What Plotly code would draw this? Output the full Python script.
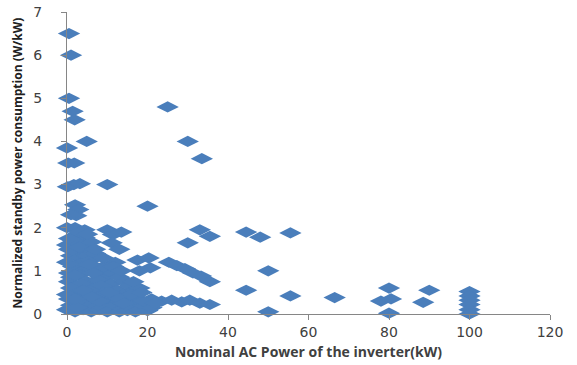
import plotly.graph_objects as go

# Nominal AC power (kW) and normalized standby consumption (W/kW)
power_kw = [
    0.5, 1, 0.5, 1.4, 1.9, 4.9, 0, 0.3, 1.8, 25, 30, 33.5,
    0.2, 1.7, 3.2, 10,
    2, 2.8, 2.3, 20,
    0, 2, 4.4, 2.4, 4.4, 10, 11.4, 11.1, 4.5, 6, 5.1, 13.5, 13,
    33, 35.5, 30, 44.5, 48, 55.5,
    50, 44.5, 55.5, 50, 66.5, 80, 78, 80.5, 80, 90, 88.5,
    100, 100, 100, 100, 100, 100,
    17.5, 20.3, 18, 20.7,
    25.3, 27.3, 29.3, 31.3, 33.3, 35.5,
    23.5, 26, 28.5, 30.5, 33, 35.5, 21, 20,
    0.5, 1, 2, 3, 4, 5, 6, 7, 0, 1.5, 2.5, 0.5, 4,
    6, 8, 9.5, 11, 12.5, 14, 15.5, 17,
    3, 5, 6.5, 8, 9.5, 11,
    10, 11.5, 13, 14.5, 15.5, 17, 12, 9,
    0, 1, 2, 3, 4, 5, 6, 7, 8, 9, 10, 11, 12, 13, 14, 15, 16, 17, 18, 19, 20, 21,
    0.5, 1.5, 2, 0.5, 3.5, 4.5, 1, 2.5,
    15, 17, 19, 18,
    7.5, 8.5, 9, 6.5, 5.5, 3.5, 2, 1, 0, 13, 14, 16, 12, 10.5, 8, 6, 4, 2.5,
    0, 1.5, 3, 5.5, 7, 9, 11.5, 13.5, 16.5, 18.5, 22, 1, 3, 0.5, 5, 7, 2,
]
standby_w_per_kw = [
    6.5, 6.0, 5.0, 4.7, 4.5, 4.0, 3.85, 3.5, 3.5, 4.8, 4.0, 3.6,
    2.95, 3.0, 3.02, 3.0,
    2.53, 2.42, 2.28, 2.5,
    2.0, 2.0, 1.95, 1.84, 1.77, 1.95, 1.84, 1.65, 1.6, 1.67, 1.48, 1.9, 1.5,
    1.95, 1.8, 1.65, 1.9, 1.78, 1.88,
    1.0, 0.55, 0.42, 0.05, 0.38, 0.6, 0.3, 0.35, 0.02, 0.55, 0.27,
    0.52, 0.42, 0.32, 0.22, 0.1, 0.0,
    1.25, 1.3, 1.0, 1.07,
    1.2, 1.12, 1.05, 0.95, 0.88, 0.75,
    0.3, 0.32, 0.28, 0.32, 0.25, 0.22, 0.35, 0.2,
    1.5, 1.35, 1.45, 1.3, 1.2, 1.35, 1.25, 1.1, 1.2, 1.1, 1.0, 0.95, 1.0,
    1.05, 0.95, 0.85, 0.7, 0.55, 0.45, 0.3, 0.2,
    0.9, 0.75, 0.6, 0.45, 0.35, 0.2,
    1.0, 0.95, 0.85, 0.75, 0.65, 0.55, 1.2, 1.1,
    0.1, 0.2, 0.05, 0.25, 0.1, 0.15, 0.05, 0.2, 0.1, 0.15, 0.05, 0.1, 0.2, 0.05, 0.12, 0.08, 0.15, 0.05, 0.1, 0.2, 0.08, 0.15,
    0.35, 0.5, 0.65, 0.75, 0.45, 0.3, 0.85, 0.3,
    0.4, 0.35, 0.3, 0.6,
    0.8, 0.65, 0.5, 0.95, 0.55, 0.7, 0.9, 0.6, 0.45, 0.3, 0.25, 0.45, 0.4, 0.5, 0.3, 0.4, 0.55, 0.15,
    1.6, 1.7, 1.55, 1.15, 1.4, 1.3, 1.1, 1.0, 0.75, 0.5, 0.25, 2.3, 1.9, 1.75, 1.85, 1.5, 0.35,
]

x_ticks = [0, 20, 40, 60, 80, 100, 120]
y_ticks = [0, 1, 2, 3, 4, 5, 6, 7]

fig = go.Figure(
    go.Scatter(
        x=power_kw,
        y=standby_w_per_kw,
        mode="markers",
        marker=dict(symbol="diamond-wide", size=16, color="#4a7ebb", line=dict(width=0)),
        cliponaxis=False,
        showlegend=False,
    )
)

axis_font = dict(family="DejaVu Sans", size=14, color="#404040")

fig.update_layout(
    width=577,
    height=365,
    margin=dict(l=67, r=27, t=12, b=51),
    paper_bgcolor="white",
    plot_bgcolor="white",
    xaxis=dict(
        range=[0, 120],
        tickvals=x_ticks,
        ticks="outside",
        ticklen=5,
        tickcolor="#868686",
        showline=True,
        linecolor="#868686",
        linewidth=1,
        showgrid=False,
        zeroline=False,
        automargin=False,
        tickfont=axis_font,
        title=dict(
            text="<b>Nominal AC Power of the inverter(kW)</b>",
            font=dict(family="Open Sans", size=14, color="#404040"),
            standoff=8,
        ),
    ),
    yaxis=dict(
        range=[0, 7],
        tickvals=y_ticks,
        ticks="outside",
        ticklen=5,
        tickcolor="#868686",
        showline=True,
        linecolor="#868686",
        linewidth=1,
        showgrid=False,
        zeroline=False,
        automargin=False,
        tickfont=axis_font,
        ticklabelstandoff=16,
        ticklabeloverflow="allow",
        title=dict(
            text="<b>Normalized standby power consumption (W/kW)</b>",
            font=dict(family="Open Sans", size=12, color="#202020"),
            standoff=8,
        ),
    ),
)

# remove the default page margin so the figure fills the window exactly
fig.write_html(
    "out.html",
    config={"displayModeBar": False},
    post_script="document.body.style.margin='0';",
)
